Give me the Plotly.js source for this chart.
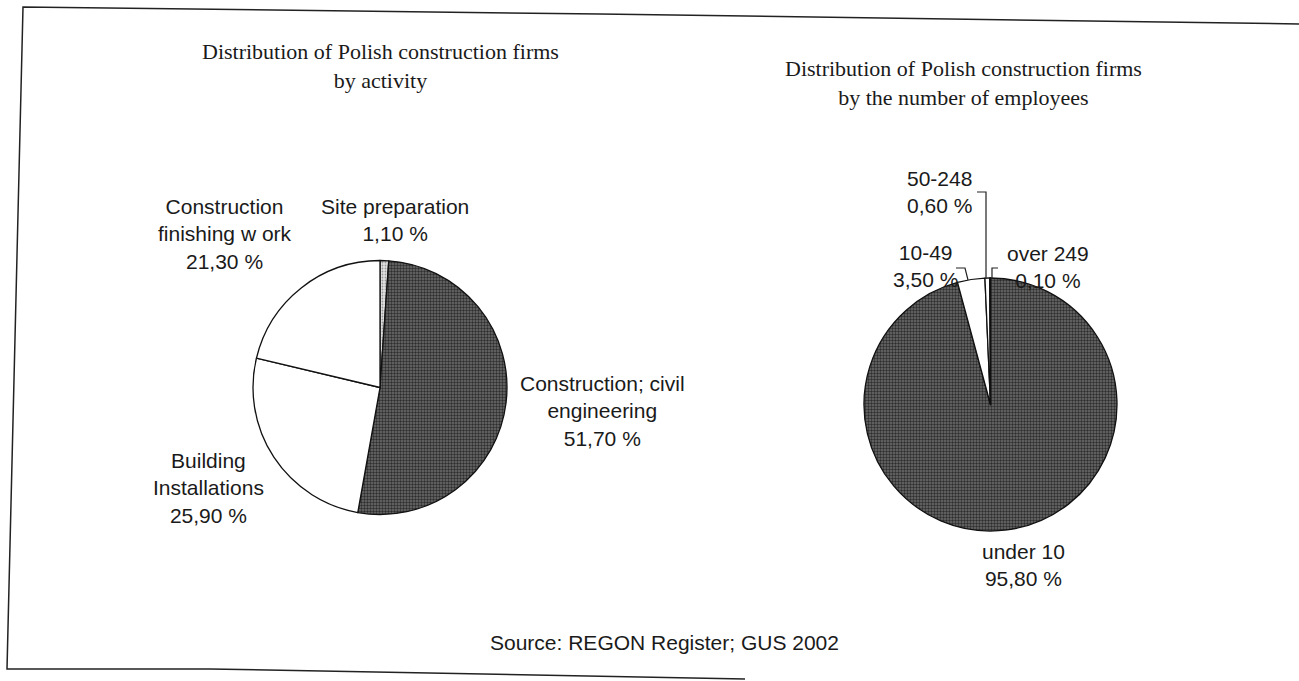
<!DOCTYPE html>
<html><head><meta charset="utf-8">
<script src="https://cdn.plot.ly/plotly-3.0.1.min.js"></script>
<style>html,body{margin:0;padding:0;background:#fff}#chart{width:1299px;height:681px}</style>
</head><body><div id="chart"></div>
<script>
// ---- data ----
const activityLabels = ["Site preparation", "Construction; civil engineering", "Building Installations", "Construction finishing work"];
const activityNames  = ["Site preparation", "Construction; civil<br>engineering", "Building<br>Installations", "Construction<br>finishing w ork"];
const activityValues = [1.1, 51.7, 25.9, 21.3];

const sizeLabels = ["under 10", "10-49", "50-248", "over 249"];
const sizeValues = [95.8, 3.5, 0.6, 0.1];

const titleLeft  = "Distribution of Polish construction firms<br>by activity";
const titleRight = "Distribution of Polish construction firms<br>by the number of employees";
const sourceText = "Source: REGON Register; GUS 2002";

// ---- layout helpers (pixel -> paper) ----
const W = 1299, H = 681;
const px = x => x / W;
const py = y => 1 - y / H;
const pct = v => v.toFixed(2).replace('.', ',') + ' %';

const DARK = '#555555';
const LINE = '#111';

function domainFor(cx, cy, r) {
  return { x: [px(cx - r), px(cx + r)], y: [py(cy + r), py(cy - r)] };
}

const traces = [
  {
    type: 'pie', labels: activityLabels, values: activityValues, sort: false,
    direction: 'clockwise', rotation: 0, textinfo: 'none', hoverinfo: 'skip',
    domain: domainFor(380, 387.5, 127),
    marker: { colors: ['#d2d2d2', DARK, '#ffffff', '#ffffff'],
              pattern: { shape: ['.', '.', '', ''], size: 3, solidity: [0.3, 0.5, 0, 0],
                         fgcolor: ['#999999', '#2e2e2e', '#000', '#000'], bgcolor: ['#e2e2e2', '#6e6e6e', '#fff', '#fff'], fillmode: 'replace' },
              line: { color: LINE, width: 1.3 } },
    showlegend: false
  },
  {
    type: 'pie', labels: sizeLabels, values: sizeValues, sort: false,
    direction: 'clockwise', rotation: 0, textinfo: 'none', hoverinfo: 'skip',
    domain: domainFor(990.5, 404.5, 126.5),
    marker: { colors: [DARK, '#ffffff', '#ffffff', DARK],
              pattern: { shape: ['.', '', '', '.'], size: 3, solidity: [0.5, 0, 0, 0.5],
                         fgcolor: ['#2e2e2e', '#000', '#000', '#2e2e2e'], bgcolor: ['#6e6e6e', '#fff', '#fff', '#6e6e6e'], fillmode: 'replace' },
              line: { color: LINE, width: 1.3 } },
    showlegend: false
  }
];

const sansFont  = { family: 'Liberation Sans, Arial, sans-serif', size: 21, color: '#1a1a1a' };
const serifFont = { family: 'Liberation Serif, Times New Roman, serif', size: 22, color: '#1a1a1a' };

function ann(text, x, y, font) {
  return { text: text, x: px(x), y: py(y), xref: 'paper', yref: 'paper',
           xanchor: 'center', yanchor: 'middle', showarrow: false, align: 'center', font: font };
}

// label placement (pixel centres)
const actPos  = [[395, 220], [602, 411], [208, 488], [225, 234]];
const sizePos = [[1023, 565], [925, 266], [939, 192], [1048, 267]];

const annotations = [
  ann(titleLeft, 380, 66, serifFont),
  ann(titleRight, 963, 83, serifFont),
  ann(sourceText, 664, 642, sansFont)
];
activityValues.forEach((v, i) => annotations.push(ann(activityNames[i] + '<br>' + pct(v), actPos[i][0], actPos[i][1], sansFont)));
sizeValues.forEach((v, i) => annotations.push(ann(sizeLabels[i] + '<br>' + pct(v), sizePos[i][0], sizePos[i][1], sansFont)));

function pathPx(points) {
  return points.map((p, i) => (i ? 'L' : 'M') + px(p[0]).toFixed(5) + ',' + py(p[1]).toFixed(5)).join(' ');
}
const lineStyle = { color: '#222', width: 1.2 };
const shapes = [
  // frame
  { type: 'path', xref: 'paper', yref: 'paper', path: pathPx([[1299, 24], [600, 14], [23, 7], [7, 669], [210, 669], [745, 679]]), line: { color: '#222', width: 1.5 } },
  // leader lines (right pie)
  { type: 'path', xref: 'paper', yref: 'paper', path: pathPx([[977, 192], [986, 192], [986, 279]]), line: lineStyle },
  { type: 'path', xref: 'paper', yref: 'paper', path: pathPx([[956, 268], [965, 268], [968, 280]]), line: lineStyle },
  { type: 'path', xref: 'paper', yref: 'paper', path: pathPx([[998, 268], [992, 268], [992, 279]]), line: lineStyle }
];

Plotly.newPlot('chart', traces, {
  width: W, height: H, margin: { l: 0, r: 0, t: 0, b: 0 },
  paper_bgcolor: '#fff', plot_bgcolor: '#fff',
  annotations: annotations, shapes: shapes, showlegend: false
}, { staticPlot: true, displayModeBar: false });
</script>
</body></html>
